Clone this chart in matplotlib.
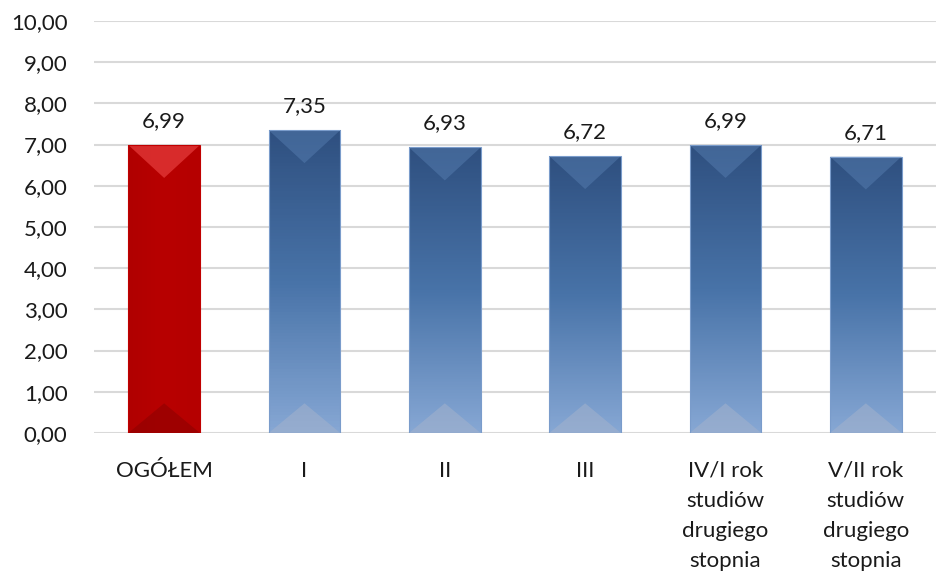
import matplotlib.pyplot as plt
import numpy as np
from matplotlib.patches import Polygon
from matplotlib.colors import LinearSegmentedColormap

# %% data
categories = ['OGÓŁEM', 'I', 'II', 'III',
              'IV/I rok\nstudiów\ndrugiego\nstopnia',
              'V/II rok\nstudiów\ndrugiego\nstopnia']
values = [6.99, 7.35, 6.93, 6.72, 6.99, 6.71]
labels = ['6,99', '7,35', '6,93', '6,72', '6,99', '6,71']
yticks = [0, 1, 2, 3, 4, 5, 6, 7, 8, 9, 10]

plt.rcParams['font.family'] = ['Lato', 'DejaVu Sans']

fig = plt.figure(figsize=(9.36, 5.75), dpi=100)
ax = fig.add_axes([0.1004, 0.247, 0.8996, 0.7165])

x = np.arange(len(values))
width = 0.51
bars = ax.bar(x, values, width=width, color='none', zorder=2)

blue_cmap = LinearSegmentedColormap.from_list('b', ['#2f5080', '#4873a8', '#86a7d4'])
red_cmap = LinearSegmentedColormap.from_list('r', ['#b00000', '#b80000', '#b50000'])

depth_top = 0.8
depth_bot = 0.72
for i, b in enumerate(bars):
    x0 = b.get_x()
    x1 = x0 + b.get_width()
    xc = (x0 + x1) / 2
    h = b.get_height()
    if i == 0:
        grad = np.tile(np.linspace(0, 1, 50), (50, 1))  # horizontal shading
        cmap = red_cmap
        top_col, bot_col, edge = '#e43a3a', '#8e0000', '#c00000'
        a_top, a_bot = 0.75, 0.6
    else:
        grad = np.tile(np.linspace(0, 1, 100)[:, None], (1, 2))
        cmap = blue_cmap
        top_col, bot_col, edge = '#5a82b5', '#a3b2cc', '#7a9ccb'
        a_top, a_bot = 0.45, 0.55
    im = ax.imshow(grad, cmap=cmap, extent=[x0, x1, 0, h], origin='upper',
                   aspect='auto', zorder=2)
    im.set_clip_path(b)
    ax.add_patch(Polygon([[x0, h], [x1, h], [xc, h - depth_top]], closed=True,
                         facecolor=top_col, edgecolor='none', alpha=a_top, zorder=3))
    ax.add_patch(Polygon([[x0, 0], [x1, 0], [xc, depth_bot]], closed=True,
                         facecolor=bot_col, edgecolor='none', alpha=a_bot, zorder=3))
    ax.add_patch(plt.Rectangle((x0, 0), x1 - x0, h, fill=False, edgecolor=edge,
                               linewidth=0.8, zorder=4))
    ax.annotate(labels[i], (xc, h), xytext=(0, 10), textcoords='offset points',
                ha='center', va='bottom', fontsize=16, color='#1a1a1a')

ax.set_xlim(-0.5, len(values) - 0.5)
ax.set_ylim(0, 10)
ax.set_yticks(yticks)
ax.set_yticklabels(['%d,00' % t for t in yticks], fontsize=16, color='#1a1a1a')
ax.set_xticks(x)
ax.set_xticklabels(categories, fontsize=16, color='#1a1a1a', linespacing=1.63)
ax.tick_params(axis='both', length=0)
ax.tick_params(axis='y', pad=19)
ax.tick_params(axis='x', pad=20)
ax.yaxis.grid(True, color='#d9d9d9', linewidth=1.5)
ax.set_axisbelow(True)
for s in ax.spines.values():
    s.set_visible(False)

fig.savefig('out.png', dpi=100)
